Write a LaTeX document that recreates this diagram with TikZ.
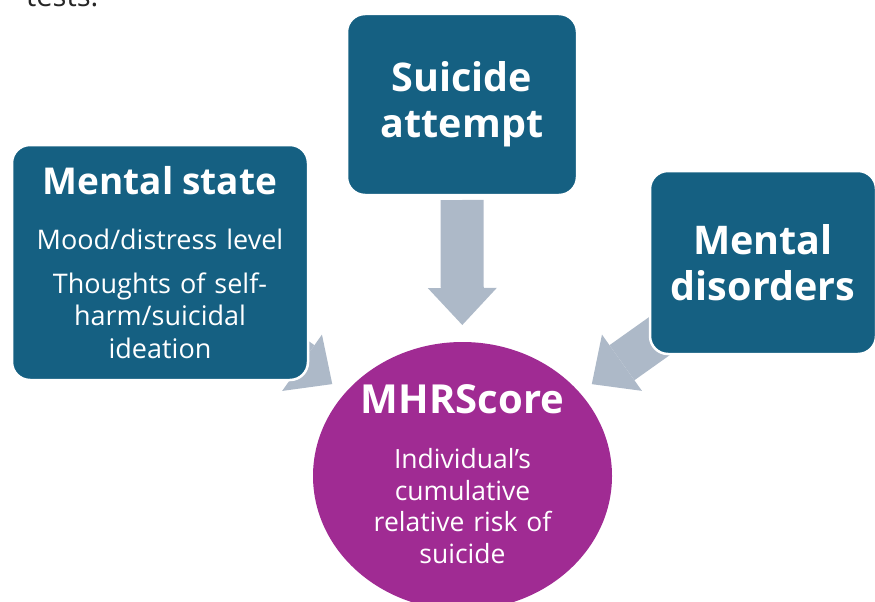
\documentclass[tikz,border=0pt]{standalone}
\usepackage{fontspec}
\setmainfont{Open Sans}
\usetikzlibrary{
  arrows.meta,
  shapes.geometric,
  backgrounds
}
\definecolor{boxblue}{HTML}{156082}
\definecolor{arrowgray}{HTML}{ADB9C8}
\definecolor{scorepurple}{HTML}{A02B93}
\tikzset{
  block/.style={
    rectangle,
    rounded corners=18pt,
    fill=boxblue,
    draw=white,
    line width=2.5pt,
    text=white,
    align=center,
    inner sep=0pt,
  },
  factor/.style={
    block,
    text width=215pt,
    font=\fontsize{39.5}{46}\selectfont\bfseries,
  },
  score/.style={
    ellipse,
    fill=scorepurple,
    minimum width=299pt,
    minimum height=268pt,
    inner sep=0pt,
  },
  scoretext/.style={
    text=white,
    align=center,
    text width=280pt,
    inner sep=0pt,
    font=\fontsize{26.5}{31.7}\selectfont,
  },
  fat/.style={
    arrowgray,
    line width=43pt,
    -{Triangle[width=69pt,length=37pt,line width=0pt]},
  },
}

\begin{document}
\begin{tikzpicture}[x=1pt,y=-1pt]
		\useasboundingbox (0,0) rectangle (875,602);
		\clip (0,0) rectangle (875,602);

		% text left over from the slide above
		\node[anchor=base west,inner sep=0pt,text=black!85,font=\fontsize{29}{35}\selectfont] (prev) at (26,7) {tests.};

		% nodes
		\node[block,minimum width=296pt,minimum height=235pt,text width=290pt,font=\fontsize{27}{32.5}\selectfont] (state) at (160,262.5)
			{{\fontsize{37}{37}\selectfont\bfseries Mental state}\\[22.5pt] Mood/distress level\\[11.5pt] Thoughts of self-\\harm/suicidal\\ideation};
		\node[factor,minimum width=230pt,minimum height=181pt] (attempt) at (462,104.5) {Suicide\\attempt};
		\node[factor,minimum width=226pt,minimum height=183pt] (disorders) at (763,262.5) {Mental\\disorders};

		\node[score] (mhr) at (462.5,476) {};
		\node[scoretext] (mhrtext) at ([yshift=2pt]mhr.center)
			{{\fontsize{40}{40}\selectfont\bfseries MHRScore}\\[23.3pt] Individual’s\\cumulative\\relative risk of\\suicide};

		% edges
		\begin{scope}[on background layer]
			\draw[fat,shorten <=95.5pt,shorten >=151pt] (attempt.center) -- (mhr.center);
			\draw[fat,shorten <=100pt,shorten >=159.4pt] (state.center) -- (mhr.center);
			\draw[fat,shorten <=100pt,shorten >=158.6pt] (disorders.center) -- (mhr.center);
		\end{scope}
	\end{tikzpicture}
\end{document}
